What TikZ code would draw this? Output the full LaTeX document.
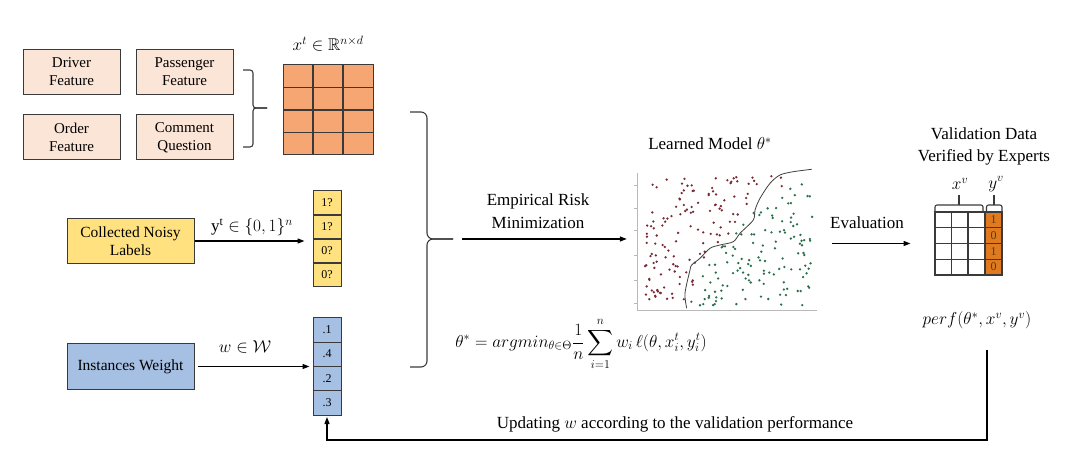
\documentclass[tikz,border=0pt]{standalone}
\usepackage{fontspec}
\setmainfont{Liberation Serif}
\usepackage{amsmath,amssymb}
\usetikzlibrary{arrows.meta}
\definecolor{featfill}{HTML}{FBE5D6}
\definecolor{matfill}{HTML}{F5A673}
\definecolor{yelfill}{HTML}{FFE27F}
\definecolor{bluefill}{HTML}{A6C0E4}
\definecolor{orgcol}{HTML}{E07A1F}
\definecolor{edge}{HTML}{3A3A3A}
\definecolor{redpt}{HTML}{7A2A33}
\definecolor{greenpt}{HTML}{2A6E4A}
\definecolor{celltxt}{HTML}{5A3A10}
\tikzset{
 feat/.style={draw=edge, line width=1pt, fill=featfill, minimum width=97pt, minimum height=45pt, align=center, font=\fontsize{15}{18}\selectfont, inner sep=0},
 srcbox/.style={draw=edge, line width=1pt, minimum width=127pt, minimum height=45pt, align=center, font=\fontsize{15.5}{18}\selectfont, inner sep=0},
 colbox/.style={draw=edge, line width=1pt, minimum width=28pt, inner sep=0},
 lbl/.style={font=\fontsize{17}{22}\selectfont, align=center, inner sep=0},
 cell/.style={font=\fontsize{12}{13}\selectfont, inner sep=0},
 arr/.style={-{Triangle[length=7pt,width=5pt]}, line width=1.2pt},
 ln/.style={line width=1.1pt, draw=edge},
}
\begin{document}
\begin{tikzpicture}[x=1pt,y=-1pt]
\useasboundingbox (0,0) rectangle (1080,473);

% feature boxes
\node[feat] (driver) at (71.5,72) {Driver\\Feature};
\node[feat] (pass) at (184.5,72) {Passenger\\Feature};
\node[feat] (order) at (71.5,137.5) {Order\\Feature};
\node[feat] (comment) at (184.5,137.5) {Comment\\Question};

% small brace
\draw[ln, rounded corners=3pt] (243,70) -- (253,70) -- (253,108) -- (267,108);
\draw[ln, rounded corners=3pt] (267,108) -- (253,108) -- (253,147) -- (243,147);

% feature matrix
\node[draw=edge, line width=1pt, fill=matfill, minimum width=90pt, minimum height=90pt, inner sep=0] (xt) at (328,110) {};
\foreach \x in {313,343} \draw[ln] (\x,65) -- (\x,155);
\foreach \y in {87.5,110,132.5} \draw[ln] (283,\y) -- (373,\y);
\node[lbl] (xtl) at (328,44) {$x^t \in \mathbb{R}^{n\times d}$};

% noisy labels
\node[srcbox, fill=yelfill] (noisy) at (130.5,241) {Collected Noisy\\Labels};
\node[colbox, fill=yelfill, minimum height=96pt] (ycol) at (327,239) {};
\foreach \y in {215,239,263} \draw[ln] (313,\y) -- (341,\y);
\foreach \y/\t in {203/1?,227/1?,251/0?,275/0?} \node[cell] at (327,\y) {\t};
\draw[arr, shorten >=8pt] (noisy.east) -- (noisy.east -| ycol.west);
\node[lbl] (ylab) at (252,227) {$\mathrm{y}^{\mathrm{t}} \in \{0,1\}^n$};

% instances weight
\node[srcbox, fill=bluefill] (inst) at (130.5,366.5) {Instances Weight};
\node[colbox, fill=bluefill, minimum height=97pt] (wcol) at (327,366.5) {};
\foreach \y in {342.25,366.5,390.75} \draw[ln] (313,\y) -- (341,\y);
\foreach \y/\t in {330/.1,354/.4,378.5/.2,403/.3} \node[cell] at (327,\y) {\t};
\draw[arr, shorten <=3pt, shorten >=3pt] (inst.east) -- (inst.east -| wcol.west);
\node[lbl] (wlab) at (245,347) {$w \in \mathcal{W}$};

% big brace
\coordinate (tip) at (453,239);
\draw[ln, rounded corners=6pt] (410,112) -- (427,112) -- (427,239) -- (tip);
\draw[ln, rounded corners=6pt] (tip) -- (427,239) -- (427,367) -- (410,367);

% plot region
\node[minimum width=180pt, minimum height=137pt, inner sep=0] (plot) at (727,241.5) {};
\draw[arr, shorten <=9pt, shorten >=10pt] (tip) -- (tip -| plot.west);
\node[lbl, font=\fontsize{17}{23}\selectfont] (erm) at (538,211) {Empirical Risk\\Minimization};
\node[lbl, font=\fontsize{18}{22}\selectfont] (form) at (581,344) {$\theta^* = argmin_{\theta\in\Theta}\dfrac{1}{n}\displaystyle\sum_{i=1}^{n} w_i\,\ell(\theta, x_i^t, y_i^t)$};

% scatter plot
\draw[gray!55, line width=0.6pt] (637,173) -- (637,310) -- (817,310);
\foreach \y in {185,208,230,255,280,303} \draw[gray!55, line width=0.6pt] (634,\y) -- (637,\y);
\pgfmathsetseed{23}
\foreach \i in {1,...,260}{
 \pgfmathsetmacro\px{645+168*rnd}
 \pgfmathsetmacro\py{176+130*rnd}
 \pgfmathsetmacro\xc{812-1.586*(\py-169)+0.00494*(\py-169)*(\py-169)}
 \pgfmathtruncatemacro\side{\px<\xc ? 1 : 0}
 \ifnum\side=1 \fill[redpt] (\px,\py) circle (1.3pt); \else \fill[greenpt] (\px,\py) circle (1.3pt); \fi
}
\draw[line width=0.8pt, black!75] plot[smooth] coordinates {(686.7,308.3) (685,293.3) (690,270) (691.7,265) (700,258.3) (710,248.3) (720,245) (733.3,241.7) (740,233.3) (753.3,220) (755,210) (760,198.3) (770,183.3) (780,175) (793.3,171.7) (811.7,169.3)};
\node[lbl] (lm) at (710,144) {Learned Model $\theta^*$};

% validation table
\node[draw=edge, line width=1pt, minimum width=67pt, minimum height=63pt, inner sep=0] (val) at (968.5,243.5) {};
\fill[orgcol] (985,212) rectangle (1002,275);
\draw[ln] (935,212) rectangle (1002,275);
\foreach \x in {951.5,968,985} \draw[ln] (\x,212) -- (\x,275);
\foreach \y in {227.75,243.5,259.25} \draw[ln] (935,\y) -- (1002,\y);
\foreach \y/\t in {220/1,235.6/0,251.4/1,267/0} \node[cell, text=celltxt] at (993.5,\y) {\t};
\draw[ln, rounded corners=2pt] (935,212) -- (935,205) -- (983,205) -- (983,212);
\draw[ln] (959,205) -- (959,195);
\draw[ln, rounded corners=2pt] (986.5,212) -- (986.5,205) -- (1002,205) -- (1002,212);
\draw[ln] (994,205) -- (994,195);
\node[lbl] (xv) at (960,184) {$x^v$};
\node[lbl] (yv) at (996,184) {$y^v$};
\node[lbl] (valt) at (984,146) {Validation Data\\Verified by Experts};
\draw[arr, shorten <=15pt, shorten >=24pt] (plot.east |- val.west) -- (val.west);
\node[lbl] (evl) at (867,223) {Evaluation};
\node[lbl, font=\fontsize{18}{22}\selectfont] (perf) at (977,320) {$perf(\theta^*,x^v,y^v)$};

% feedback
\coordinate (fbstart) at (987,350);
\draw[arr, shorten >=1.5pt] (fbstart) -- (987,440) -- (327,440) -- (wcol.south);
\node[lbl] (upd) at (675,424) {Updating $w$ according to the validation performance};
\end{tikzpicture}
\end{document}
